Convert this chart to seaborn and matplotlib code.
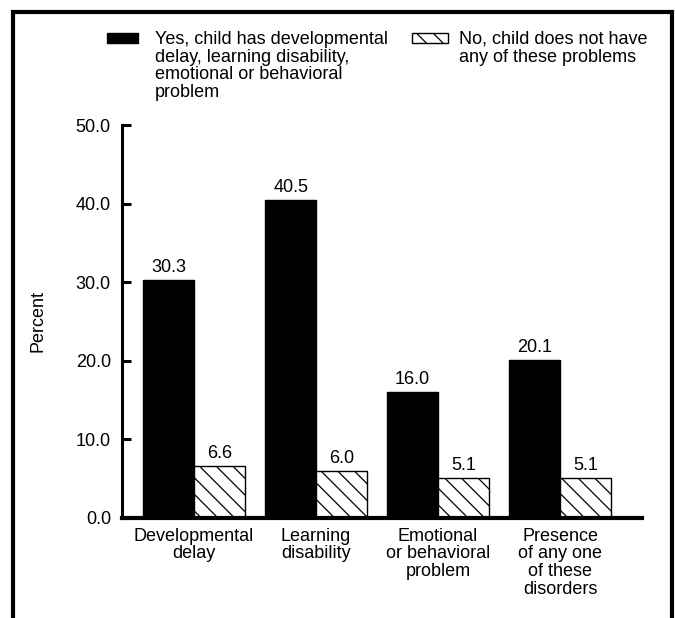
import pandas as pd
import matplotlib.pyplot as plt
import seaborn as sns
from matplotlib.patches import Rectangle

# Dados
categorias = ["Developmental\ndelay", "Learning\ndisability",
              "Emotional\nor behavioral\nproblem",
              "Presence\nof any one\nof these\ndisorders"]
valores_sim = [30.3, 40.5, 16.0, 20.1]
valores_nao = [6.6, 6.0, 5.1, 5.1]
rotulo_sim = "Yes, child has developmental\ndelay, learning disability,\nemotional or behavioral\nproblem"
rotulo_nao = "No, child does not have\nany of these problems"
yticks = [0, 10, 20, 30, 40, 50]

df = pd.DataFrame({
    "Categoria": categorias * 2,
    "Percent": valores_sim + valores_nao,
    "Grupo": ["sim"] * len(categorias) + ["nao"] * len(categorias),
})

sns.set_theme(style="white")
plt.rcParams["font.family"] = ["Liberation Sans", "DejaVu Sans"]
plt.rcParams["hatch.linewidth"] = 0.9
plt.rcParams["text.color"] = "black"
plt.rcParams["axes.labelcolor"] = "black"
fs = 13
hachura = "\\\\"

fig = plt.figure(figsize=(6.75, 6.18), dpi=100)
ax = fig.add_axes([122 / 675, 1 - 518 / 618, (642 - 122) / 675, (518 - 125) / 618])

sns.barplot(data=df, x="Categoria", y="Percent", hue="Grupo",
            palette=["black", "white"], saturation=1, width=0.83,
            edgecolor="black", linewidth=1.0, legend=False, ax=ax)

for barra in ax.containers[1]:
    barra.set_hatch(hachura)

for cont in ax.containers:
    ax.bar_label(cont, fmt="%.1f", padding=3, fontsize=fs, color="black")

# Eixos
ax.set_ylim(0, 50)
ax.set_xlim(-0.59, 3.672)
ax.set_yticks(yticks)
ax.set_yticklabels([f"{v:.1f}" for v in yticks])
ax.tick_params(axis="y", direction="in", length=6.5, width=2.2, pad=8,
               labelsize=fs, colors="black", left=True)
ax.tick_params(axis="x", length=0, pad=7, labelsize=fs, colors="black")
for lbl in ax.get_xticklabels():
    lbl.set_linespacing(1.05)
ax.set_xlabel("")
ax.set_ylabel("Percent", fontsize=fs, color="black")
ax.yaxis.set_label_coords((47 - 122) / 520, 0.5)

sns.despine(ax=ax)
ax.spines["left"].set_linewidth(2.2)
ax.spines["bottom"].set_linewidth(3)
ax.spines["left"].set_color("black")
ax.spines["bottom"].set_color("black")

# Moldura
fig.add_artist(Rectangle((13 / 675, -0.05), (672 - 13) / 675, 1.05 - 12 / 618,
                         transform=fig.transFigure, fill=False,
                         linewidth=3, edgecolor="black"))

# Legenda manual
fig.add_artist(Rectangle((107 / 675, 1 - 43 / 618), 31 / 675, 10 / 618,
                         transform=fig.transFigure, facecolor="black",
                         edgecolor="black", linewidth=1))
fig.add_artist(Rectangle((412 / 675, 1 - 43 / 618), 36 / 675, 10 / 618,
                         transform=fig.transFigure, facecolor="white",
                         edgecolor="black", linewidth=1, hatch=hachura))
fig.text(155 / 675, 1 - 31 / 618, rotulo_sim, va="top", ha="left",
         fontsize=fs, linespacing=1.05)
fig.text(459 / 675, 1 - 31 / 618, rotulo_nao, va="top", ha="left",
         fontsize=fs, linespacing=1.05)

fig.savefig("out.png", dpi=100)
plt.close(fig)
